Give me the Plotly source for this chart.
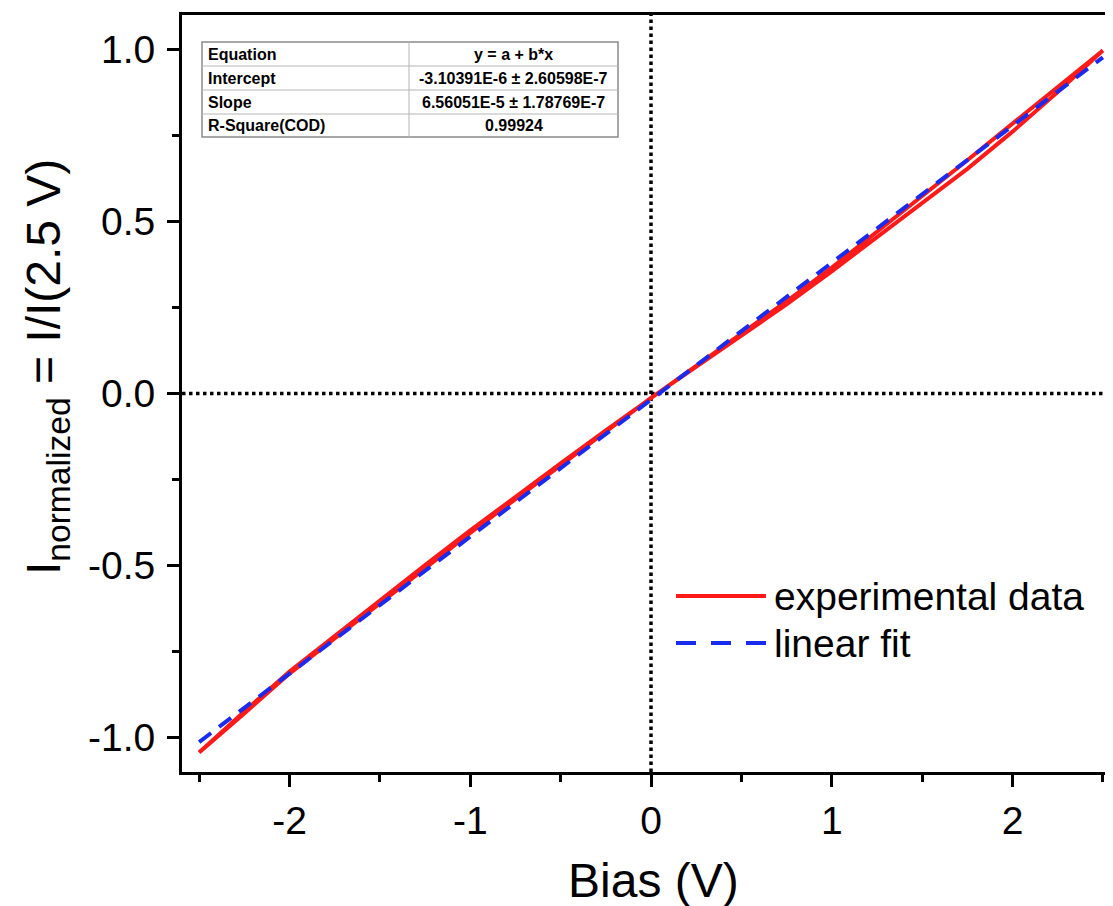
import plotly.graph_objects as go

# I-V sweep, normalized to I(2.5 V)
bias_pos_fwd = [0, 0.25, 0.5, 0.75, 1.0, 1.25, 1.5, 1.75, 2.0, 2.25, 2.5]
i_pos_fwd = [-0.013, 0.078, 0.170, 0.259, 0.355, 0.455, 0.553, 0.653, 0.761, 0.876, 0.997]
bias_pos_rev = [2.5, 2.25, 2.0, 1.75, 1.5, 1.25, 1.0, 0.75, 0.5, 0.25, 0]
i_pos_rev = [0.997, 0.890, 0.784, 0.678, 0.574, 0.470, 0.366, 0.268, 0.175, 0.081, -0.013]
bias_neg_fwd = [0, -0.25, -0.5, -0.75, -1.0, -1.25, -1.5, -1.75, -2.0, -2.25, -2.5]
i_neg_fwd = [-0.013, -0.107, -0.203, -0.300, -0.398, -0.499, -0.602, -0.704, -0.808, -0.924, -1.043]
bias_neg_rev = [-2.5, -2.25, -2.0, -1.75, -1.5, -1.25, -1.0, -0.75, -0.5, -0.25, 0]
i_neg_rev = [-1.043, -0.930, -0.814, -0.712, -0.611, -0.508, -0.405, -0.307, -0.209, -0.112, -0.013]

fit_bias = [-2.5, 2.5]
fit_i = [-1.013, 0.977]

x_ticks = [-2, -1, 0, 1, 2]
x_ticklabels = ["-2", "-1", "0", "1", "2"]
y_ticks = [-1.0, -0.5, 0.0, 0.5, 1.0]
y_ticklabels = ["-1.0", "-0.5", "0.0", "0.5", "1.0"]

table_rows = [
    ["Equation", "y = a + b*x"],
    ["Intercept", "-3.10391E-6 ± 2.60598E-7"],
    ["Slope", "6.56051E-5 ± 1.78769E-7"],
    ["R-Square(COD)", "0.99924"],
]
legend_names = ["experimental data", "linear fit"]

FONT = "Arial, Liberation Sans, sans-serif"
W, H = 1113, 906
OFF = 8  # page body margin
# plot area edges in screen pixels
L, T, B = 182, 15, 772
R = W + OFF


def xp(px):
    return (px - L) / (R - L)


def yp(py):
    return (B - py) / (B - T)


exp_bias = bias_pos_fwd + bias_pos_rev + bias_neg_fwd + bias_neg_rev
exp_i = i_pos_fwd + i_pos_rev + i_neg_fwd + i_neg_rev

fig = go.Figure()
fig.add_trace(go.Scatter(x=exp_bias, y=exp_i, mode="lines", name=legend_names[0],
                         line=dict(color="#ff1a1a", width=4)))
fig.add_trace(go.Scatter(x=fit_bias, y=fit_i, mode="lines", name=legend_names[1],
                         line=dict(color="#1a2bf0", width=4, dash="15px,10px")))

shapes = []
# dotted zero lines
shapes.append(dict(type="line", xref="x", yref="paper", x0=0, x1=0, y0=0, y1=1,
                   line=dict(color="black", width=3.5, dash="dot"), layer="below"))
shapes.append(dict(type="line", xref="paper", yref="y", x0=0, x1=1, y0=0, y1=0,
                   line=dict(color="black", width=3.5, dash="dot"), layer="below"))

# fit table
tx0, tx1, txm = 202, 618, 409
row_y = [42, 66, 90, 114, 137]
shapes.append(dict(type="rect", xref="paper", yref="paper", x0=xp(tx0), x1=xp(tx1),
                   y0=yp(row_y[-1]), y1=yp(row_y[0]), fillcolor="white",
                   line=dict(color="#8a8a8a", width=1.5)))
for yy in row_y[1:-1]:
    shapes.append(dict(type="line", xref="paper", yref="paper", x0=xp(tx0), x1=xp(tx1),
                       y0=yp(yy), y1=yp(yy), line=dict(color="#b5b5b5", width=1)))
shapes.append(dict(type="line", xref="paper", yref="paper", x0=xp(txm), x1=xp(txm),
                   y0=yp(row_y[-1]), y1=yp(row_y[0]), line=dict(color="#b5b5b5", width=1)))

annotations = []
for k, (name, val) in enumerate(table_rows):
    yc = yp((row_y[k] + row_y[k + 1]) / 2)
    annotations.append(dict(xref="paper", yref="paper", x=xp(206), y=yc, text="<b>%s</b>" % name,
                            showarrow=False, xanchor="left", yanchor="middle",
                            font=dict(family=FONT, size=16, color="black")))
    annotations.append(dict(xref="paper", yref="paper", x=xp((txm + tx1) / 2), y=yc,
                            text="<b>%s</b>" % val, showarrow=False, xanchor="center",
                            yanchor="middle", font=dict(family=FONT, size=16, color="black")))

# legend drawn by hand (long samples)
shapes.append(dict(type="line", xref="paper", yref="paper", x0=xp(676), x1=xp(766),
                   y0=yp(596), y1=yp(596), line=dict(color="#ff1a1a", width=4)))
shapes.append(dict(type="line", xref="paper", yref="paper", x0=xp(676), x1=xp(766),
                   y0=yp(643), y1=yp(643), line=dict(color="#1a2bf0", width=4, dash="20px,15px")))
annotations.append(dict(xref="paper", yref="paper", x=xp(772), y=yp(596), text=legend_names[0],
                        showarrow=False, xanchor="left", yanchor="middle",
                        font=dict(family=FONT, size=39, color="black")))
annotations.append(dict(xref="paper", yref="paper", x=xp(772), y=yp(643), text=legend_names[1],
                        showarrow=False, xanchor="left", yanchor="middle",
                        font=dict(family=FONT, size=39, color="black")))

# axis titles
annotations.append(dict(xref="paper", yref="paper", x=xp(653), y=yp(880), text="Bias (V)",
                        showarrow=False, xanchor="center", yanchor="middle",
                        font=dict(family=FONT, size=48, color="black")))
annotations.append(dict(xref="paper", yref="paper", x=xp(47), y=yp(367),
                        text="I<sub>normalized</sub> = I/I(2.5 V)", textangle=-90,
                        showarrow=False, xanchor="center", yanchor="middle",
                        font=dict(family=FONT, size=48, color="black")))

# x range so that the scale matches the reference (-2 at 290 px, 2 at 1013 px)
px_per_unit = (1013 - 290) / 4
x_lo = (L - 651) / px_per_unit
x_hi = (R - 651) / px_per_unit

fig.update_layout(
    width=W, height=H,
    margin=dict(l=L - OFF, r=W - (R - OFF), t=T - OFF, b=H - (B - OFF)),
    paper_bgcolor="white", plot_bgcolor="white",
    showlegend=False,
    shapes=shapes, annotations=annotations,
    font=dict(family=FONT, color="black"),
)
fig.update_xaxes(range=[x_lo, x_hi], tickvals=x_ticks, ticktext=x_ticklabels,
                 showgrid=False, zeroline=False,
                 showline=True, linecolor="black", linewidth=3, mirror=True,
                 ticks="outside", ticklen=12, tickwidth=3, tickcolor="black",
                 tickfont=dict(family=FONT, size=39, color="black"),
                 minor=dict(dtick=0.5, tick0=0, ticks="outside", ticklen=7, tickwidth=3,
                            tickcolor="black"))
fig.update_yaxes(range=[-1.1, 1.1], tickvals=y_ticks, ticktext=y_ticklabels, showgrid=False,
                 zeroline=False, showline=True, linecolor="black", linewidth=3,
                 ticks="outside", ticklen=12, tickwidth=3, tickcolor="black",
                 ticklabelstandoff=4,
                 tickfont=dict(family=FONT, size=39, color="black"),
                 minor=dict(dtick=0.25, tick0=0, ticks="outside", ticklen=7, tickwidth=3,
                            tickcolor="black"))

fig.write_html("out.html")
